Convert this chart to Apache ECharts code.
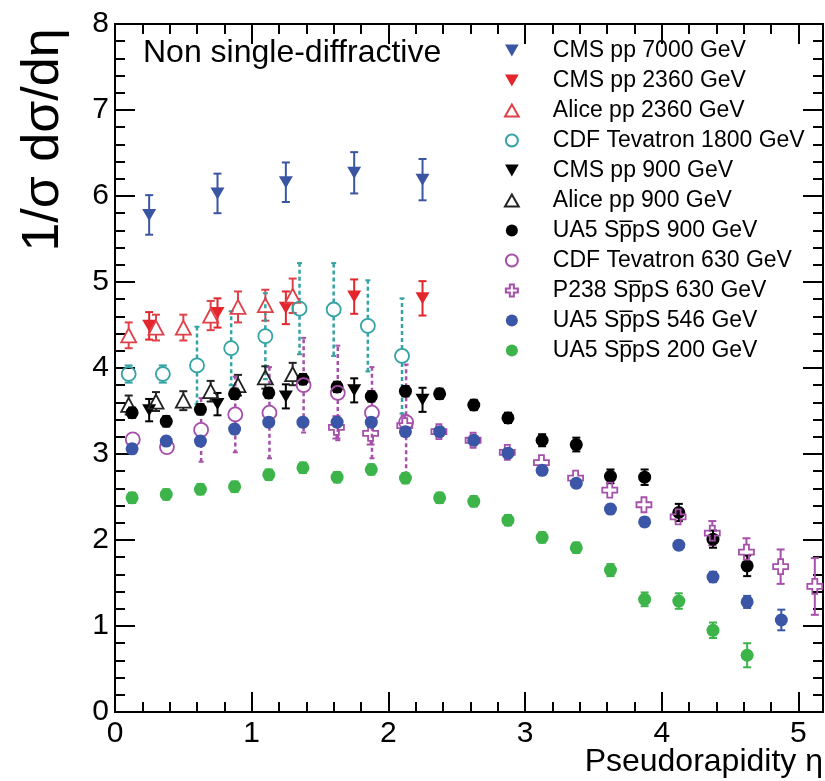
<!DOCTYPE html>
<html><head><meta charset="utf-8">
<script src="https://cdn.jsdelivr.net/npm/echarts@6/dist/echarts.min.js"></script>
<style>html,body{margin:0;padding:0;background:#fff}#c{width:825px;height:781px}</style>
</head><body><div id="c"></div>
<script>
const FONT = '"Liberation Sans", Arial, Helvetica, sans-serif';

// ---------- data ----------
const cms7000Eta = [0.25, 0.75, 1.25, 1.75, 2.25];
const cms7000Val = [5.78, 6.03, 6.16, 6.27, 6.19];
const cms7000Err = [0.23, 0.23, 0.23, 0.24, 0.24];

const cms2360Eta = [0.25, 0.75, 1.25, 1.75, 2.25];
const cms2360Val = [4.49, 4.64, 4.70, 4.83, 4.81];
const cms2360Err = [0.16, 0.17, 0.19, 0.2, 0.2];

const alice2360Eta = [0.1, 0.3, 0.5, 0.7, 0.9, 1.1, 1.3];
const alice2360Val = [4.38, 4.47, 4.47, 4.61, 4.71, 4.73, 4.84];
const alice2360Err = [0.15, 0.15, 0.15, 0.17, 0.18, 0.18, 0.2];

const cdf1800Eta = [0.1, 0.35, 0.6, 0.85, 1.1, 1.35, 1.6, 1.85, 2.1];
const cdf1800Val = [3.93, 3.93, 4.03, 4.23, 4.37, 4.69, 4.68, 4.49, 4.14];
const cdf1800Err = [0.1, 0.1, 0.45, 0.43, 0.5, 0.53, 0.54, 0.53, 0.67];
const cdf1800Dashed = [0, 0, 1, 1, 1, 1, 1, 1, 1];

const cms900Eta = [0.25, 0.75, 1.25, 1.75, 2.25];
const cms900Val = [3.51, 3.58, 3.67, 3.74, 3.63];
const cms900Err = [0.13, 0.13, 0.14, 0.14, 0.14];

const alice900Eta = [0.1, 0.3, 0.5, 0.7, 0.9, 1.1, 1.3];
const alice900Val = [3.57, 3.61, 3.62, 3.73, 3.80, 3.89, 3.93];
const alice900Err = [0.11, 0.11, 0.11, 0.12, 0.12, 0.13, 0.13];

const ua5900Eta = [0.125, 0.375, 0.625, 0.875, 1.125, 1.375, 1.625, 1.875, 2.125, 2.375,
  2.625, 2.875, 3.125, 3.375, 3.625, 3.875, 4.125, 4.375, 4.625];
const ua5900Val = [3.48, 3.38, 3.52, 3.70, 3.71, 3.87, 3.78, 3.67, 3.73, 3.70,
  3.57, 3.42, 3.16, 3.11, 2.74, 2.73, 2.32, 2.01, 1.70];
const ua5900Err = [0.06, 0.06, 0.06, 0.06, 0.06, 0.06, 0.06, 0.06, 0.06, 0.06,
  0.06, 0.06, 0.07, 0.08, 0.08, 0.09, 0.1, 0.1, 0.12];

const cdf630Eta = [0.13, 0.38, 0.63, 0.88, 1.13, 1.38, 1.63, 1.88, 2.13];
const cdf630Val = [3.17, 3.08, 3.28, 3.46, 3.48, 3.80, 3.71, 3.48, 3.37];
const cdf630Err = [0.09, 0.09, 0.37, 0.44, 0.53, 0.55, 0.55, 0.53, 0.67];
const cdf630Dashed = [0, 0, 1, 1, 1, 1, 1, 1, 1];

const p238Eta = [1.62, 1.87, 2.12, 2.37, 2.62, 2.87, 3.12, 3.37, 3.62, 3.87, 4.12, 4.37, 4.62, 4.87, 5.12];
const p238Val = [3.31, 3.24, 3.33, 3.26, 3.16, 3.02, 2.90, 2.72, 2.58, 2.41, 2.27, 2.08, 1.86, 1.69, 1.46];
const p238Err = [0.13, 0.13, 0.12, 0.06, 0.05, 0.05, 0.05, 0.05, 0.06, 0.06, 0.09, 0.14, 0.16, 0.2, 0.33];

const ua5546Eta = [0.125, 0.375, 0.625, 0.875, 1.125, 1.375, 1.625, 1.875, 2.125, 2.375,
  2.625, 2.875, 3.125, 3.375, 3.625, 3.875, 4.125, 4.375, 4.625, 4.875];
const ua5546Val = [3.06, 3.15, 3.15, 3.29, 3.37, 3.37, 3.37, 3.37, 3.26, 3.26,
  3.16, 3.01, 2.81, 2.66, 2.36, 2.21, 1.94, 1.57, 1.28, 1.07];
const ua5546Err = [0.05, 0.05, 0.05, 0.05, 0.05, 0.05, 0.05, 0.05, 0.05, 0.05,
  0.05, 0.05, 0.05, 0.05, 0.05, 0.05, 0.05, 0.06, 0.07, 0.12];

const ua5200Eta = [0.125, 0.375, 0.625, 0.875, 1.125, 1.375, 1.625, 1.875, 2.125, 2.375,
  2.625, 2.875, 3.125, 3.375, 3.625, 3.875, 4.125, 4.375, 4.625];
const ua5200Val = [2.49, 2.53, 2.59, 2.62, 2.76, 2.84, 2.73, 2.82, 2.72, 2.49,
  2.45, 2.23, 2.03, 1.91, 1.65, 1.31, 1.29, 0.95, 0.66];
const ua5200Err = [0.06, 0.06, 0.06, 0.06, 0.06, 0.06, 0.06, 0.06, 0.06, 0.06,
  0.06, 0.06, 0.06, 0.06, 0.07, 0.08, 0.09, 0.09, 0.14];

const xTicks = [0, 1, 2, 3, 4, 5];
const yTicks = [0, 1, 2, 3, 4, 5, 6, 7, 8];

// ---------- styles ----------
const CROSS = 'path://M-1,-3L1,-3L1,-1L3,-1L3,1L1,1L1,3L-1,3L-1,1L-3,1L-3,-1L-1,-1Z';
const TRI_DOWN = 'path://M0,0L2,0L1,1.75Z';
const TRI_UP = 'path://M1,0L2,1.75L0,1.75Z';
const seriesDefs = [
  {name: 'CMS pp 7000 GeV', eta: cms7000Eta, val: cms7000Val, err: cms7000Err, color: '#3a55a2', symbol: TRI_DOWN, size: [14, 12], open: false},
  {name: 'CMS pp 2360 GeV', eta: cms2360Eta, val: cms2360Val, err: cms2360Err, color: '#e2262c', symbol: TRI_DOWN, size: [14, 12], open: false},
  {name: 'Alice pp 2360 GeV', eta: alice2360Eta, val: alice2360Val, err: alice2360Err, color: '#e04149', symbol: TRI_UP, size: [15, 14], open: true},
  {name: 'CDF Tevatron 1800 GeV', eta: cdf1800Eta, val: cdf1800Val, err: cdf1800Err, dashed: cdf1800Dashed, color: '#35a3a3', symbol: 'circle', size: 14, open: true},
  {name: 'CMS pp 900 GeV', eta: cms900Eta, val: cms900Val, err: cms900Err, color: '#000000', symbol: TRI_DOWN, size: [14, 12], open: false},
  {name: 'Alice pp 900 GeV', eta: alice900Eta, val: alice900Val, err: alice900Err, color: '#222222', symbol: TRI_UP, size: [15, 14], open: true},
  {name: 'UA5 Sp\u0305pS 900 GeV', eta: ua5900Eta, val: ua5900Val, err: ua5900Err, color: '#000000', symbol: 'circle', size: 13, open: false},
  {name: 'CDF Tevatron 630 GeV', eta: cdf630Eta, val: cdf630Val, err: cdf630Err, dashed: cdf630Dashed, color: '#a64fab', symbol: 'circle', size: 14, open: true},
  {name: 'P238 Sp\u0305pS 630 GeV', eta: p238Eta, val: p238Val, err: p238Err, color: '#a64fab', symbol: CROSS, size: 15, open: true},
  {name: 'UA5 Sp\u0305pS 546 GeV', eta: ua5546Eta, val: ua5546Val, err: ua5546Err, color: '#3b56a6', symbol: 'circle', size: 13, open: false},
  {name: 'UA5 Sp\u0305pS 200 GeV', eta: ua5200Eta, val: ua5200Val, err: ua5200Err, color: '#3cb44a', symbol: 'circle', size: 13, open: false}
];

function errSeries(d) {
  const data = d.eta.map((x, i) => [x, d.val[i], d.err[i], d.dashed ? d.dashed[i] : 0]);
  const gap = d.open ? (Array.isArray(d.size) ? d.size[1] : d.size) / 2 : 0;
  return {
    type: 'custom', name: d.name + ' err', data: data, z: 2, silent: true,
    encode: {x: 0, y: 1},
    renderItem: function (params, api) {
      const x = api.value(0), y = api.value(1), e = api.value(2), dsh = api.value(3);
      const c = api.coord([x, y]);
      const hi = api.coord([x, y + e]);
      const lo = api.coord([x, y - e]);
      const style = {stroke: d.color, lineWidth: dsh ? 2.5 : 2, lineDash: dsh ? [4, 3] : null, fill: null};
      const cap = {stroke: d.color, lineWidth: 2, fill: null};
      const ch = [];
      const cw = dsh ? 2.5 : 4;
      if (c[1] - hi[1] > gap + 1) {
        ch.push({type: 'line', shape: {x1: c[0], y1: c[1] - gap, x2: c[0], y2: hi[1]}, style: style});
        ch.push({type: 'line', shape: {x1: c[0] - cw, y1: hi[1], x2: c[0] + cw, y2: hi[1]}, style: cap});
      }
      if (lo[1] - c[1] > gap + 1) {
        ch.push({type: 'line', shape: {x1: c[0], y1: c[1] + gap, x2: c[0], y2: lo[1]}, style: style});
        ch.push({type: 'line', shape: {x1: c[0] - cw, y1: lo[1], x2: c[0] + cw, y2: lo[1]}, style: cap});
      }
      return {type: 'group', children: ch};
    }
  };
}

function markerSeries(d) {
  return {
    type: 'scatter', name: d.name, z: 3,
    data: d.eta.map((x, i) => [x, d.val[i]]),
    symbol: d.symbol, symbolSize: d.size,
    itemStyle: d.open
      ? {color: 'rgba(255,255,255,0)', borderColor: d.color, borderWidth: 1.8, opacity: 1}
      : {color: d.color, opacity: 1},
    emphasis: {disabled: true}
  };
}

const series = [];
seriesDefs.forEach(d => series.push(errSeries(d)));
seriesDefs.forEach(d => series.push(markerSeries(d)));

const axisLineStyle = {color: '#000', width: 2};
const X_MAX = 5.18;
function xAx(pos, interval, len, labels) {
  return {
    type: 'value', position: pos, min: 0, max: X_MAX, interval: interval,
    axisLine: {show: true, onZero: false, lineStyle: axisLineStyle},
    axisTick: {show: true, inside: true, length: len, lineStyle: {color: '#000', width: 2}},
    axisLabel: {show: labels, showMaxLabel: false, color: '#000', fontSize: 30, fontFamily: FONT, margin: 7,
      formatter: v => (xTicks.indexOf(v) >= 0 ? String(v) : '')},
    splitLine: {show: false}
  };
}
function yAx(pos, labels) {
  return {
    type: 'value', position: pos, min: 0, max: 8, interval: 1,
    axisLine: {show: true, onZero: false, lineStyle: axisLineStyle},
    axisTick: {show: true, inside: true, length: 20, lineStyle: {color: '#000', width: 2}},
    minorTick: {show: true, splitNumber: 5, length: 10, lineStyle: {color: '#000', width: 2}},
    axisLabel: {show: labels, color: '#000', fontSize: 30, fontFamily: FONT, margin: 6,
      formatter: v => (yTicks.indexOf(v) >= 0 ? String(v) : '')},
    splitLine: {show: false}
  };
}

const xAxes = [
  xAx('bottom', 1, 20, true),
  xAx('bottom', 0.2, 10, false),
  xAx('top', 1, 20, false),
  xAx('top', 0.2, 10, false)
];
xAxes[0].name = 'Pseudorapidity \u03b7';
xAxes[0].nameLocation = 'end';
xAxes[0].nameGap = 0;
xAxes[0].nameMoveOverlap = false;
xAxes[0].nameTextStyle = {fontSize: 32, fontFamily: FONT, color: '#000', align: 'right', verticalAlign: 'top', padding: [34, 0, 0, 0]};

const chart = echarts.init(document.getElementById('c'), null, {renderer: 'canvas'});
chart.setOption({
  animation: false,
  backgroundColor: '#fff',
  grid: {left: 115, right: 2, top: 24, bottom: 69, containLabel: false, outerBoundsMode: 'none'},
  xAxis: xAxes,
  yAxis: [yAx('left', true), yAx('right', false)],
  legend: {
    data: seriesDefs.map(d => d.name),
    orient: 'vertical', left: 504, top: 39, padding: 0,
    itemWidth: 72, itemHeight: 12, itemGap: 7,
    selectedMode: false, symbolKeepAspect: true,
    textStyle: {fontSize: 23, fontFamily: FONT, color: '#000', lineHeight: 23}
  },
  graphic: [
    {
      type: 'text', left: 143, top: 37,
      style: {text: 'Non single-diffractive', font: '32px ' + FONT, fill: '#000'}
    },
    {
      type: 'text', x: 44, y: 140, rotation: Math.PI / 2,
      style: {text: '1/\u03c3 d\u03c3/d\u03b7', font: '52px ' + FONT, fill: '#000',
        align: 'center', verticalAlign: 'middle', textAlign: 'center', textVerticalAlign: 'middle'}
    }
  ],
  series: series
});
</script></body></html>
